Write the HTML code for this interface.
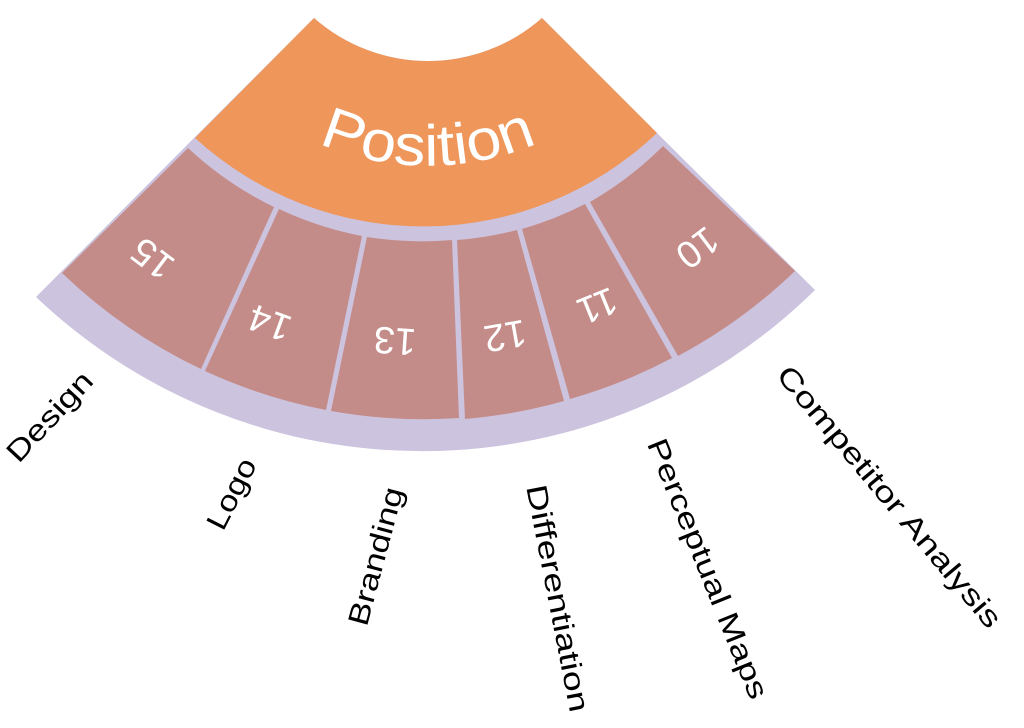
<!DOCTYPE html>
<html><head><meta charset="utf-8"><style>
html,body{margin:0;padding:0;background:#fff;}
svg{display:block;}
text{font-family:"Liberation Sans",sans-serif;}
</style></head><body>
<svg width="1024" height="728" viewBox="0 0 1024 728" xmlns="http://www.w3.org/2000/svg">
<defs>
<path id="parc" d="M190,28.5 A275 275 0 0 0 666,28.5" fill="none"/>
</defs>
<!-- lavender base -->
<path d="M314,18 L186,146 L36,297 A560 560 0 0 0 815,290 L664,140 L542,18 A172.6 172.6 0 0 1 314,18 Z" fill="#CCC3DE"/>
<!-- Position -->
<path d="M314,18 A172.6 172.6 0 0 0 542,18 L657,133 A339 339 0 0 1 195,138 Z" fill="#EF965B"/>
<!-- segments -->
<g fill="#C48C89">
<path d="M188,148 A349 349 0 0 0 274,207 L201,369 A528 528 0 0 1 62,273 Z"/>
<path d="M279,209 A349 349 0 0 0 362,236 L326,410 A528 528 0 0 1 205,371 Z"/>
<path d="M367,237 A349 349 0 0 0 452,240 L459,418 A528 528 0 0 1 331,411 Z"/>
<path d="M457,240 A349 349 0 0 0 517,230 L564,401 A528 528 0 0 1 465,419 Z"/>
<path d="M522,229 A349 349 0 0 0 585,204 L672,358 A528 528 0 0 1 570,399 Z"/>
<path d="M590,202 A349 349 0 0 0 663,146 L795,271 A528 528 0 0 1 678,356 Z"/>
</g>
<text font-size="58" fill="#fff" text-anchor="middle"><textPath href="#parc" startOffset="50%" textLength="225" lengthAdjust="spacingAndGlyphs">Position</textPath></text>
<g fill="#fff" font-size="38" text-anchor="middle" dominant-baseline="central">
<text transform="translate(153,258) rotate(217)">15</text>
<text transform="translate(270,322) rotate(200)">14</text>
<text transform="translate(395,340) rotate(184)">13</text>
<text transform="translate(505,335) rotate(170)">12</text>
<text transform="translate(597,305) rotate(158)">11</text>
<text transform="translate(697,247) rotate(143)">10</text>
</g>
<g fill="#000" font-size="29" dominant-baseline="central">
<text transform="translate(12,458) rotate(-47)" textLength="112" lengthAdjust="spacingAndGlyphs">Design</text>
<text transform="translate(215,528) rotate(-63)" textLength="76" lengthAdjust="spacingAndGlyphs">Logo</text>
<text transform="translate(358,625) rotate(-75)" textLength="142" lengthAdjust="spacingAndGlyphs">Branding</text>
<text transform="translate(535,485) rotate(79)" textLength="231" lengthAdjust="spacingAndGlyphs">Differentiation</text>
<text transform="translate(655,440) rotate(68)" textLength="278" lengthAdjust="spacingAndGlyphs">Perceptual Maps</text>
<text transform="translate(782,370) rotate(50)" textLength="332" lengthAdjust="spacingAndGlyphs">Competitor Analysis</text>
</g>
</svg>
</body></html>
